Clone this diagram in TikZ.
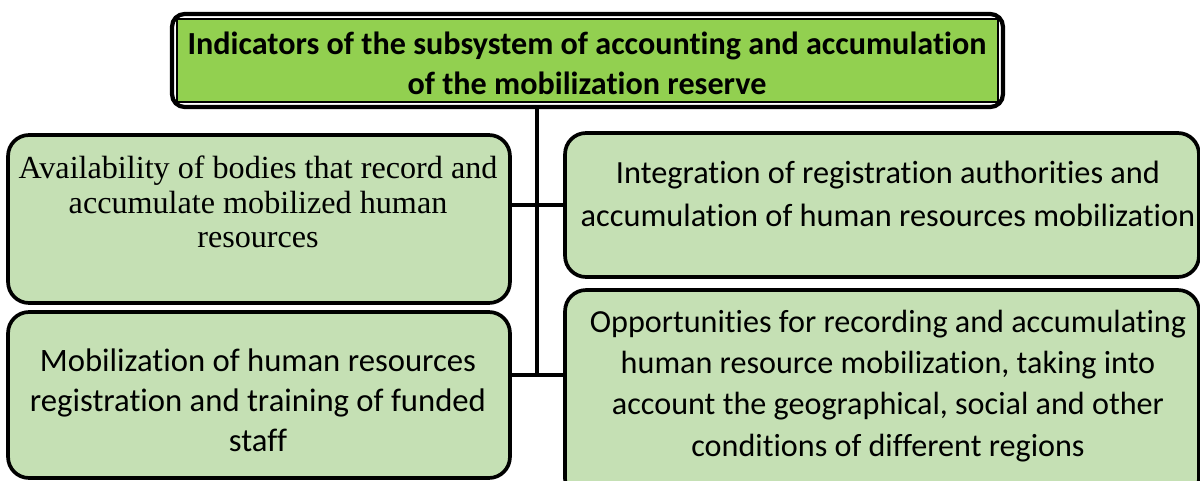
\documentclass[tikz,border=0pt]{standalone}
\usepackage{fontspec}
\setmainfont{Carlito}[Ligatures=NoCommon]
\newfontfamily\timesf{Liberation Serif}
\definecolor{titlegreen}{HTML}{92D050}
\definecolor{boxgreen}{HTML}{C5E0B4}
\begin{document}
\begin{tikzpicture}[x=0.02cm,y=-0.02cm,
  box/.style={draw=black,line width=2.1pt,fill=boxgreen,rounded corners=0.42cm,inner sep=0pt},
  txt/.style={align=center,inner sep=0pt,font=\fontsize{18.4}{24.4}\selectfont},
  link/.style={draw=black,line width=2pt}]
\useasboundingbox (0,0) rectangle (1200,480);
% title
\node[draw=black,line width=2.4pt,fill=white,rounded corners=0.25cm,minimum width=16.62cm,minimum height=1.86cm] (title) at (587.5,60.5) {};
\node[draw=black,line width=0.9pt,fill=titlegreen,minimum width=16.42cm,minimum height=1.66cm,inner sep=0pt] (titlein) at (587.5,60.5) {};
\node[txt,font=\fontsize{18.3}{22.8}\selectfont\bfseries] (ttitle) at (587,63.5) {Indicators of the subsystem of accounting and accumulation\\of the mobilization reserve};
% boxes
\node[box,minimum width=10.04cm,minimum height=3.36cm] (lt) at (259,219) {};
\node[box,minimum width=10.04cm,minimum height=3.32cm] (lb) at (259,395) {};
\node[box,minimum width=12.68cm,minimum height=2.88cm] (rt) at (882,205) {};
\node[box,minimum width=12.68cm,minimum height=4.2cm] (rb) at (882,395) {};
% texts
\node[txt,font=\timesf\fontsize{18.3}{19.8}\selectfont] (tlt) at (258,202) {Availability of bodies that record and\\accumulate mobilized human\\resources};
\node[txt] (trt) at (888,194) {Integration of registration authorities and\\accumulation of human resources mobilization};
\node[txt,font=\fontsize{18.6}{22.7}\selectfont] (tlb) at (258,400) {Mobilization of human resources\\registration and training of funded\\staff};
\node[txt,font=\fontsize{18.3}{23.4}\selectfont] (trb) at (888,386) {Opportunities for recording and accumulating\\human resource mobilization, taking into\\account the geographical, social and other\\conditions of different regions};
% connectors
\coordinate (j1) at (537,205);
\coordinate (j2) at (537,375);
\draw[link] (title.south -| j1) -- (j2);
\draw[link] (lt.east |- j1) -- (rt.west |- j1);
\draw[link] (lb.east |- j2) -- (rb.west |- j2);
\end{tikzpicture}
\end{document}
